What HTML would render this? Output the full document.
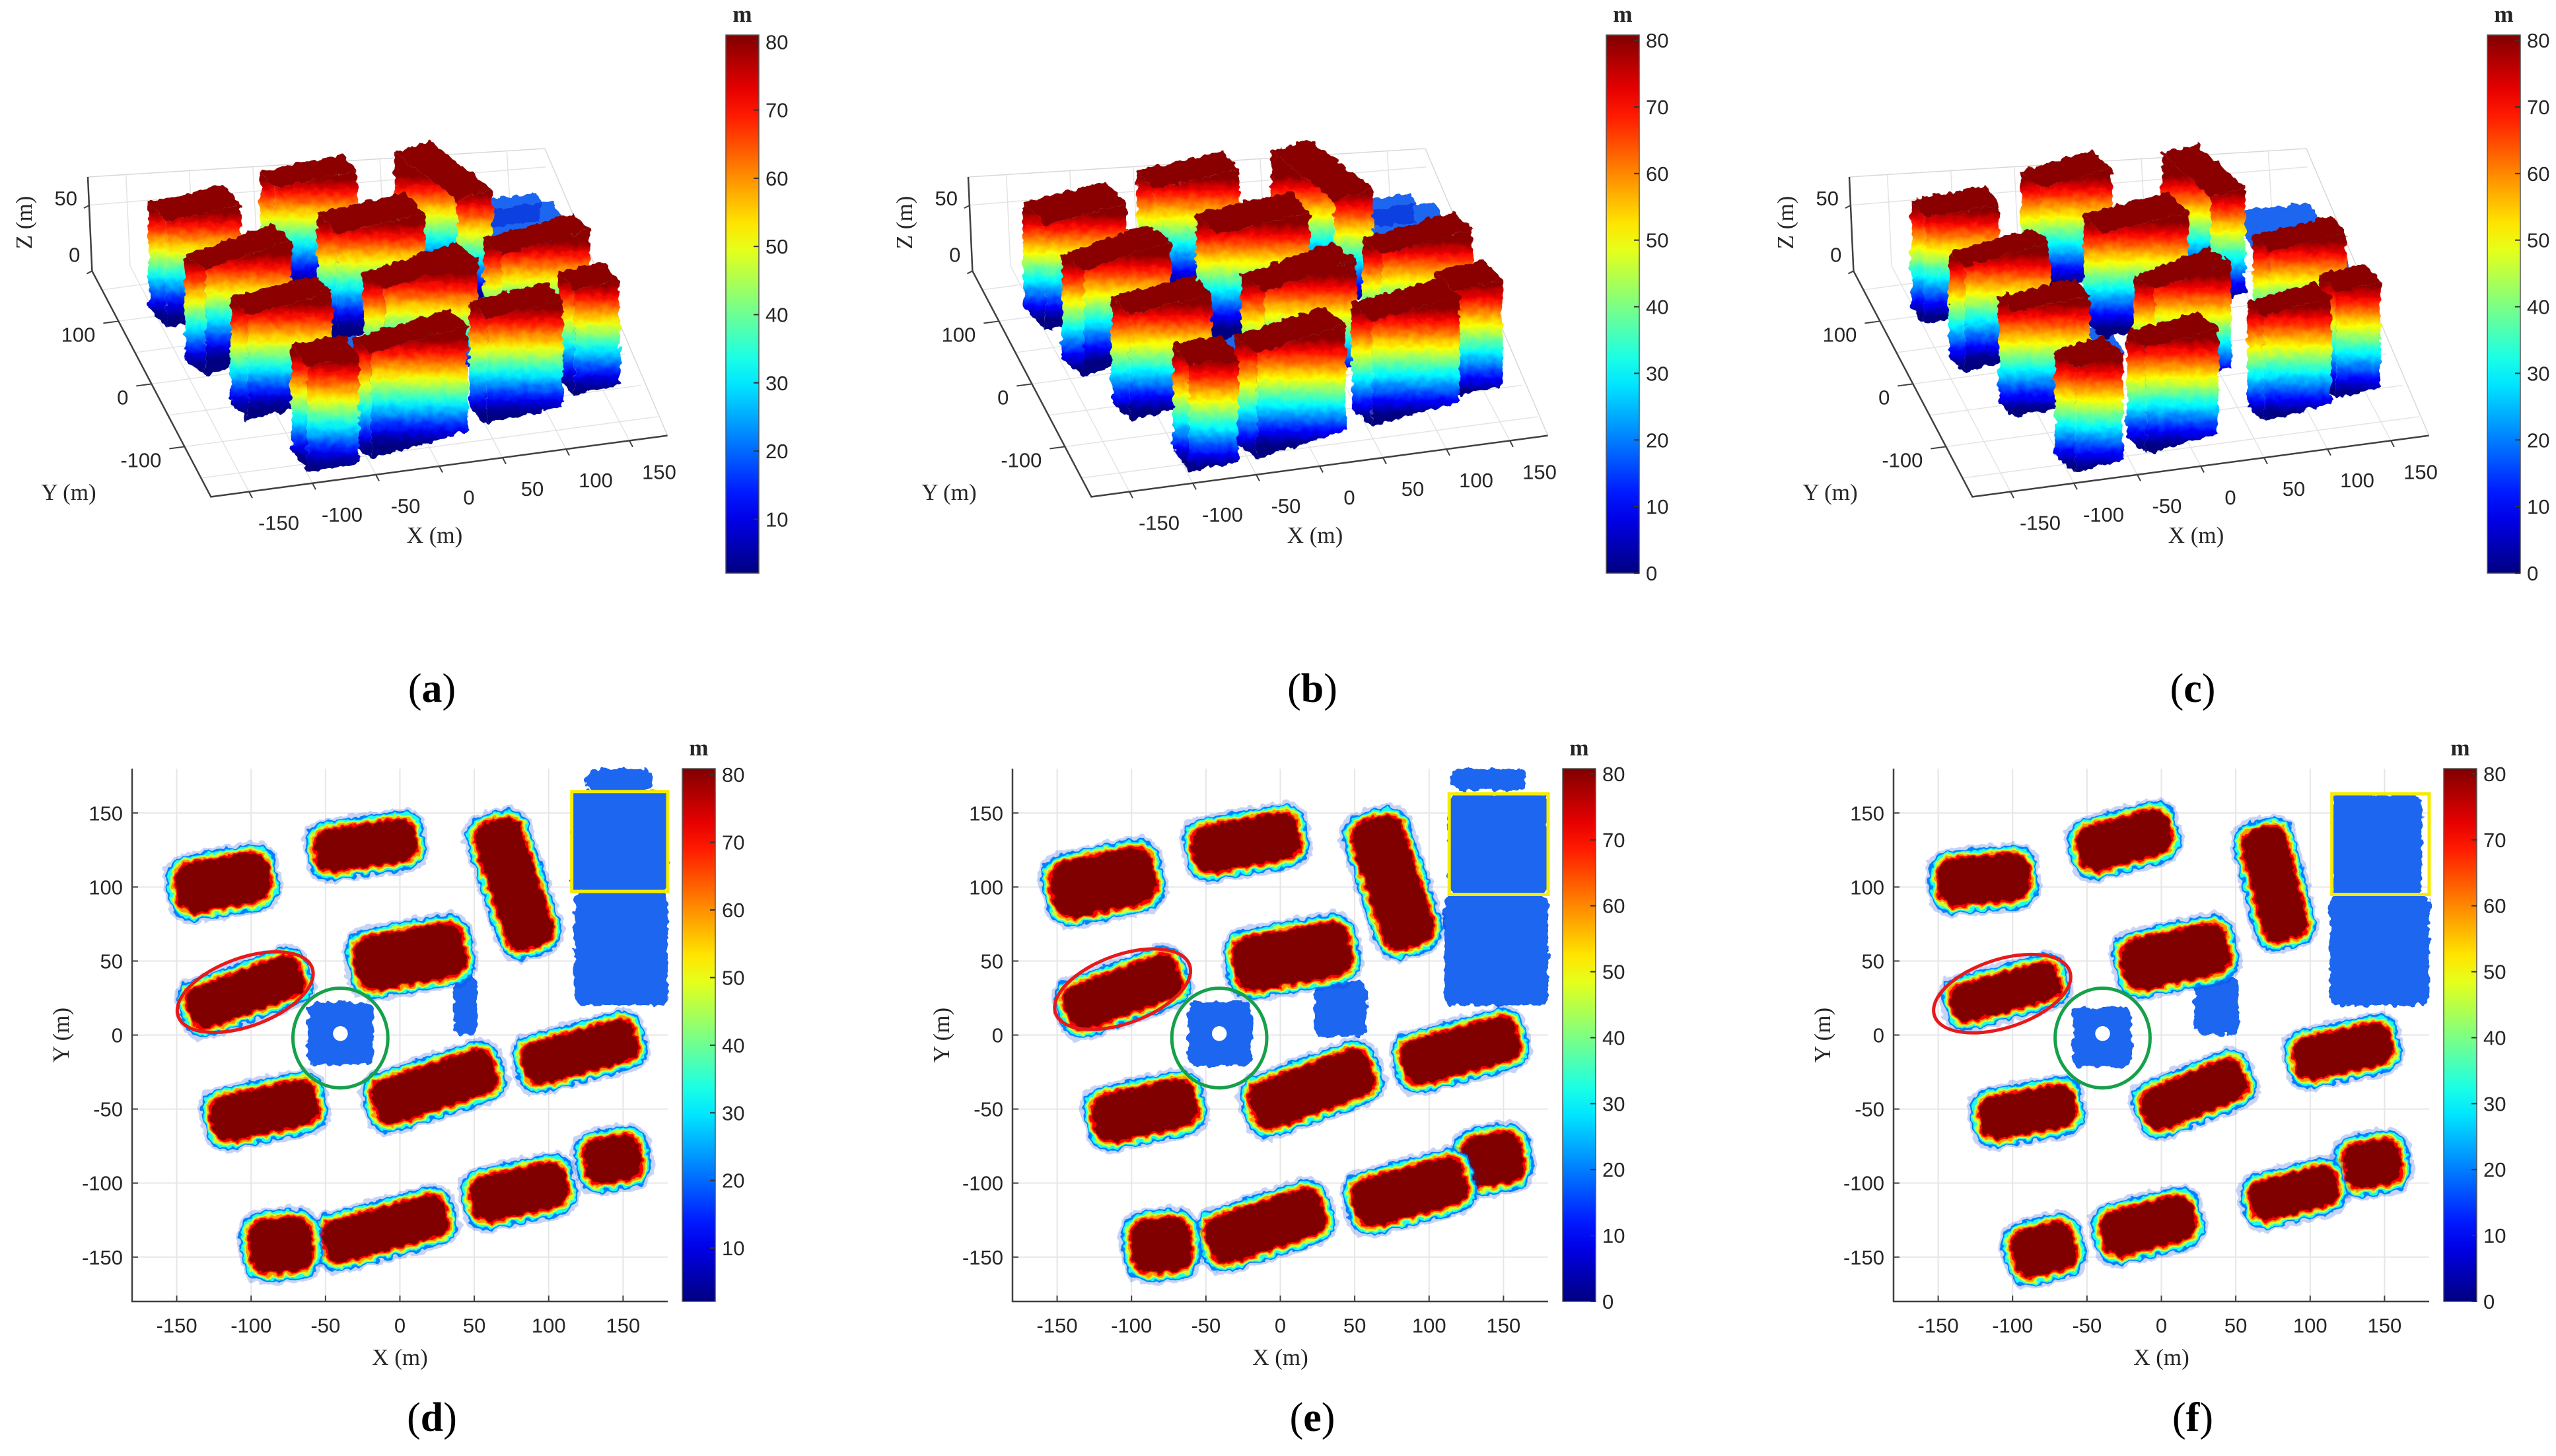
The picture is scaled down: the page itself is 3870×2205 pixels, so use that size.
<!DOCTYPE html>
<html><head><meta charset="utf-8">
<style>
html,body{margin:0;padding:0;background:#fff;}
svg{display:block;}
.tk{font-family:"Liberation Sans",Arial,sans-serif;font-size:31px;fill:#262626;}
.lb{font-family:"Liberation Serif",serif;font-size:35px;fill:#262626;}
.pl{font-family:"Liberation Serif",serif;font-size:62px;fill:#000;}
</style></head>
<body>
<svg id="fig" width="3870" height="2205" viewBox="0 0 3870 2205" xmlns="http://www.w3.org/2000/svg">
<defs>
<filter id="rough" x="-20%" y="-20%" width="140%" height="140%">
<feTurbulence type="fractalNoise" baseFrequency="0.09" numOctaves="2" seed="3" result="n"/>
<feDisplacementMap in="SourceGraphic" in2="n" scale="12" xChannelSelector="R" yChannelSelector="G"/>
</filter>
</defs>
</svg>
<script>
// ---------- data ----------
const axisTicks = [-150,-100,-50,0,50,100,150];
const zTicks = [0,50];
const yTicks3d = [-100,0,100];
const cbTicksA = [10,20,30,40,50,60,70,80];
const cbTicksB = [0,10,20,30,40,50,60,70,80];
// panel d / a buildings
const dX = [-119,-23,76.5,7,-104,23,121,-91,143,80,-10,-80];
const dY = [103,128,102,53,29,-35,-11.5,-51,-84,-106,-131,-142];
const dL = [63,68,89,74,80,85,78,72,38,65,85,42];
const dW = [33,28,32,36,28,30,28,30,30,30,28,36];
const dA = [10,8,-72,10,20,18,15,12,10,12,15,5];
// panel e / b buildings
const eX = [-119,-23,75.5,8,-106,21,121,-91,143,87,-10,-80];
const eY = [103,130,103,53,29,-36.5,-10.6,-51,-84,-106,-129,-142];
const eL = [70,72,90,79,80,85,80,70,40,77,81,40];
const eW = [38,31,35,36,30,32,30,32,34,32,32,36];
const eA = [12,10,-72,10,20,20,15,12,10,15,18,5];
// panel f / c buildings
const fX = [-119.5,-25,76,9.5,-104.6,22,122,-90,142,89,-9,-79];
const fY = [105,131.5,102,53,29,-40,-11,-52,-87,-107,-129,-145];
const fL = [61,63,77,72,74,72,66,64,38,59,63,42];
const fW = [31,30,30,34,25,28,28,28,30,26,30,32];
const fA = [5,15,-76,12,15,22,12,10,10,14,14,15];
// flat ground-level (blue) regions: x0,y0,x1,y1
const dBx0 = [115,117,125,36,-62]; const dBy0 = [97,20,165,0,-20]; const dBx1 = [180,180,170,52,-18]; const dBy1 = [165,97,180,42,22];
const eBx0 = [113,110,115,23,-62]; const eBy0 = [95,20,165,-1,-21]; const eBx1 = [180,180,165,58,-19]; const eBy1 = [163,95,180,36,23];
const fBx0 = [115,113,22,-60]; const fBy0 = [95,20,0,-22]; const fBx1 = [175,180,52,-20]; const fBy1 = [163,95,39,19];
// annotations: red ellipse (cx,cy,a,b,angle), green circle (cx,cy,r), yellow box (x0,y0,x1,y1)
const dRed = [-104,29,48,23,20]; const dGreen = [-40,-2,32]; const dYellow = [115.5,97,180,164.5];
const eRed = [-106,31,48,23,20]; const eGreen = [-41,-2,32]; const eYellow = [113.5,95,180,163];
const fRed = [-107,28,48,23,18]; const fGreen = [-39.5,-2,32]; const fYellow = [114.6,95,180,163];

// ---------- helpers ----------
const NS='http://www.w3.org/2000/svg';
const svg=document.getElementById('fig');
const defs=svg.querySelector('defs');
function mk(tag, attrs, parent){const e=document.createElementNS(NS,tag);for(const k in attrs)e.setAttribute(k,attrs[k]);(parent||svg).appendChild(e);return e;}
function cl(v){return Math.max(0,Math.min(1,v));}
function jet(t){t=cl(t);const r=cl(1.5-Math.abs(4*t-3)),g=cl(1.5-Math.abs(4*t-2)),b=cl(1.5-Math.abs(4*t-1));
 return 'rgb('+Math.round(r*255)+','+Math.round(g*255)+','+Math.round(b*255)+')';}
let gid=0;

function colorbar(x,y0,y1,vmin,vmax,ticks,name){
  const id='cbg'+(gid++);
  const lg=mk('linearGradient',{id:id,x1:0,y1:1,x2:0,y2:0},defs);
  for(let i=0;i<=20;i++){mk('stop',{offset:i/20,'stop-color':jet(i/20)},lg);}
  const g=mk('g',{});
  
  
  const r=mk('rect',{x:x,y:y0,width:50,height:y1-y0,fill:'url(#'+id+')',stroke:'#555','stroke-width':1.5},g);
  
  
  const m=mk('text',{x:x+25,y:y0-20,'text-anchor':'middle',class:'lb','font-weight':'bold'},g);
  m.textContent='m';
  
  
  ticks.forEach(v=>{
    const yy=y1-(v-vmin)/(vmax-vmin)*(y1-y0);
    mk('line',{x1:x+42,x2:x+50,y1:yy,y2:yy,stroke:'#333','stroke-width':2},g);
    const t=mk('text',{x:x+60,y:yy+11,class:'tk'},g);
    t.textContent=v;
    
    
  });
}

function panelLabel(cx,y,letter,name){
  const t=mk('text',{x:cx,y:y,'text-anchor':'middle',class:'pl'});
  t.innerHTML='(<tspan font-weight="bold">'+letter+'</tspan>)';
  
  
}

// ---------- 2D panels ----------
function panel2D(cfg){
  const L0=cfg.left, T0=cfg.top, Wd=811, Ht=807;
  const sx=x=>L0+(x+180)/360*Wd, sy=y=>T0+(180-y)/360*Ht;
  const k=(Wd/360+Ht/360)/2;
  const g=mk('g',{});
  
  
  axisTicks.forEach(v=>{
    const a=mk('line',{x1:sx(v),x2:sx(v),y1:T0,y2:T0+Ht,stroke:'#e6e6e6','stroke-width':2},g);
    
    
    const b=mk('line',{x1:L0,x2:L0+Wd,y1:sy(v),y2:sy(v),stroke:'#e6e6e6','stroke-width':2},g);
    
    
  });
  const bg=mk('g',{filter:'url(#rough)'},g);
  
  
  cfg.bx0.forEach((x0,i)=>{
    const r=mk('rect',{x:sx(x0),y:sy(cfg.by1[i]),width:sx(cfg.bx1[i])-sx(x0),height:sy(cfg.by0[i])-sy(cfg.by1[i]),rx:14,fill:'#1a66f0'},bg);
    
    
  });
  const hc=mk('circle',{cx:sx(cfg.green[0]),cy:sy(cfg.green[1]+3),r:5*k,fill:'#fff'},g);
  
  
  const layers=[[8,-1,0.22],[6,20,1],[4.8,32,1],[3.6,46,1],[2.4,58,1],[1.3,70,1],[0,80,1]];
  cfg.X.forEach((x,i)=>{
    const bgp=mk('g',{transform:'translate('+sx(x)+','+sy(cfg.Y[i])+') rotate('+(-cfg.A[i])+')',filter:'url(#rough)'},g);
    
    
    const Lp=cfg.L[i]*k, Wp=cfg.W[i]*k;
    layers.forEach(([pad,val,op])=>{
      const p=pad*k;
      const col= val<0 ? '#0a2fd8' : jet(val/80);
      const r=mk('rect',{x:-Lp/2-p,y:-Wp/2-p,width:Lp+2*p,height:Wp+2*p,rx:(Wp/2+p)*0.7,fill:col,opacity:op},bgp);
      
      
    });
  });
  const re=cfg.red;
  const e=mk('ellipse',{cx:sx(re[0]),cy:sy(re[1]),rx:re[2]*k,ry:re[3]*k,transform:'rotate('+(-re[4])+' '+sx(re[0])+' '+sy(re[1])+')',fill:'none',stroke:'#e8191b','stroke-width':5},g);
  
  
  const gr=cfg.green;
  const c=mk('ellipse',{cx:sx(gr[0]),cy:sy(gr[1]),rx:gr[2]*k,ry:gr[2]*k*1.05,fill:'none',stroke:'#16a04a','stroke-width':5},g);
  
  
  const ye=cfg.yellow;
  const yr=mk('rect',{x:sx(ye[0]),y:sy(ye[3]),width:sx(ye[2])-sx(ye[0]),height:sy(ye[1])-sy(ye[3]),fill:'none',stroke:'#f5ec00','stroke-width':5},g);
  
  
  const ax=mk('path',{d:'M'+L0+' '+T0+' V'+(T0+Ht)+' H'+(L0+Wd),fill:'none',stroke:'#404040','stroke-width':2.5},g);
  
  
  axisTicks.forEach(v=>{
    mk('line',{x1:sx(v),x2:sx(v),y1:T0+Ht,y2:T0+Ht-9,stroke:'#404040','stroke-width':2},g);
    mk('line',{x1:L0,x2:L0+9,y1:sy(v),y2:sy(v),stroke:'#404040','stroke-width':2},g);
    const tx=mk('text',{x:sx(v),y:T0+Ht+47,'text-anchor':'middle',class:'tk'},g);
    tx.textContent=v;
    
    
    const ty=mk('text',{x:L0-14,y:sy(v)+11,'text-anchor':'end',class:'tk'},g);
    ty.textContent=v;
    
    
  });
  const xl=mk('text',{x:sx(0),y:T0+Ht+96,'text-anchor':'middle',class:'lb'},g);
  xl.textContent='X (m)';
  
  
  const yl=mk('text',{x:0,y:0,'text-anchor':'middle',class:'lb',transform:'translate('+(L0-96)+','+sy(0)+') rotate(-90)'},g);
  yl.textContent='Y (m)';
  
  
}

// ---------- 3D panels ----------
function panel3D(cfg){
  const ox=cfg.ox, oy=535;
  const P=(x,y,z)=>[ox+1.92*x-0.5*y, oy-0.258*x-0.95*y-2.0*z];
  const pt=a=>a[0].toFixed(1)+','+a[1].toFixed(1);
  const g=mk('g',{});
  
  
  const zt=66;
  const gl=(a,b,c,w)=>mk('line',{x1:a[0],y1:a[1],x2:b[0],y2:b[1],stroke:c,'stroke-width':w},g);
  // perspective-ish back box (screen-space corners)
  const TL=[ox-442,268], TR=[ox+250,225], FR=P(180,-180,0);
  const lerp=(a,b,t)=>[a[0]+(b[0]-a[0])*t,a[1]+(b[1]-a[1])*t];
  axisTicks.forEach(v=>{
    const l1=gl(P(v,-180,0),P(v,180,0),'#e3e3e3',1.5);
    
    
    const l2=gl(P(-180,v,0),P(180,v,0),'#e3e3e3',1.5);
    
    
    const l3=gl(P(v,180,0),lerp(TL,TR,(v+180)/360),'#e3e3e3',1.5);
    
    
  });
  const zm=lerp(P(-180,180,0),TL,0.7), zm2=lerp(P(180,180,0),TR,0.7);
  const l5=gl(zm,zm2,'#e3e3e3',1.5);
  
  
  const top1=gl(TL,TR,'#d8d8d8',1.5);
  
  
  const top2=gl(TR,FR,'#d8d8d8',1.5);
  
  
  const zb=P(-180,180,0);
  const axp=mk('path',{d:'M'+pt(FR)+' L'+pt(P(-180,-180,0))+' L'+pt(zb)+' L'+pt(TL),fill:'none',stroke:'#404040','stroke-width':2.5},g);
  
  
  axisTicks.forEach(v=>{
    const a=P(v,-180,0),b=P(v,-190,0);
    gl(a,b,'#404040',2);
    const t=mk('text',{x:a[0]+45,y:a[1]+58,'text-anchor':'middle',class:'tk'},g);
    t.textContent=v;
    
    
  });
  yTicks3d.forEach(v=>{
    const a=P(-180,v,0),b=P(-192,v,0);
    gl(a,b,'#404040',2);
    const t=mk('text',{x:a[0]-35,y:a[1]+31,'text-anchor':'end',class:'tk'},g);
    t.textContent=v;
    
    
  });
  zTicks.forEach(v=>{
    const a=lerp(zb,TL,v/zt*0.92);
    gl(a,[a[0]-8,a[1]+4],'#404040',2);
    const t=mk('text',{x:a[0]-18,y:a[1]-(v?0:14),'text-anchor':'end',class:'tk'},g);
    t.textContent=v;
    
    
  });
  const xl=mk('text',{x:ox+83,y:822,'text-anchor':'middle',class:'lb'},g);
  xl.textContent='X (m)';
  
  
  const yl=mk('text',{x:ox-471,y:757,'text-anchor':'middle',class:'lb'},g);
  yl.textContent='Y (m)';
  
  
  const zl=mk('text',{x:0,y:0,'text-anchor':'middle',class:'lb',transform:'translate('+(ox-527)+',337) rotate(-90)'},g);
  zl.textContent='Z (m)';
  
  
  const vmin=cfg.vmin, vmax=cfg.vmax;
  const jz=z=>jet((z-vmin)/(vmax-vmin));
  const gg=mk('g',{filter:'url(#rough)'},g);
  
  
  cfg.bx0.forEach((x0,i)=>{
    const x1=cfg.bx1[i],y0=cfg.by0[i],y1=cfg.by1[i],h=14;
    const p=mk('polygon',{points:[P(x0,y0,h),P(x1,y0,h),P(x1,y1,h),P(x0,y1,h)].map(pt).join(' '),fill:'#1a66f0'},gg);
    
    
    const p2=mk('polygon',{points:[P(x0,y0,0),P(x1,y0,0),P(x1,y0,h),P(x0,y0,h)].map(pt).join(' '),fill:'#0f3fe0'},gg);
    
    
  });
  const idx=cfg.X.map((_,i)=>i).sort((a,b)=>(-0.258*cfg.X[a]-0.95*cfg.Y[a])-(-0.258*cfg.X[b]-0.95*cfg.Y[b]));
  const H=80;
  idx.forEach(i=>{
    const cx=cfg.X[i],cy=cfg.Y[i],Ln=cfg.L[i],Wn=cfg.W[i],an=cfg.A[i]*Math.PI/180;
    const u=[Math.cos(an),Math.sin(an)],v=[-Math.sin(an),Math.cos(an)];
    const cs=[[1,1],[-1,1],[-1,-1],[1,-1]].map(([a,b])=>[cx+a*u[0]*Ln/2+b*v[0]*Wn/2, cy+a*u[1]*Ln/2+b*v[1]*Wn/2]);
    const bg=mk('g',{filter:'url(#rough)'},g);
    
    
    const faces=[];
    for(let j=0;j<4;j++){
      const a=cs[j],b=cs[(j+1)%4];
      const mx=(a[0]+b[0])/2-cx,my=(a[1]+b[1])/2-cy;
      const near=-0.258*mx-0.95*my;
      if(near>0)faces.push([a,b,near]);
    }
    faces.sort((p,q)=>p[2]-q[2]);
    faces.forEach(([a,b])=>{
      const id='fg'+(gid++);
      const bm=P((a[0]+b[0])/2,(a[1]+b[1])/2,0), tm=P((a[0]+b[0])/2,(a[1]+b[1])/2,H);
      const lg=mk('linearGradient',{id:id,gradientUnits:'userSpaceOnUse',x1:bm[0],y1:bm[1],x2:tm[0],y2:tm[1]},defs);
      for(let s=0;s<=16;s++){mk('stop',{offset:s/16,'stop-color':jz(s/16*H)},lg);}
      const f=mk('polygon',{points:[P(a[0],a[1],0),P(b[0],b[1],0),P(b[0],b[1],H),P(a[0],a[1],H)].map(pt).join(' '),fill:'url(#'+id+')'},bg);
      
      
    });
    const tp=mk('polygon',{points:cs.map(c=>pt(P(c[0],c[1],H))).join(' '),fill:jz(80)},bg);
    
    
  });
}

// ---------- build ----------
panel3D({name:'panel-a-3d',ox:575,X:dX,Y:dY,L:dL,W:dW,A:dA,bx0:dBx0,by0:dBy0,bx1:dBx1,by1:dBy1,vmin:2.1,vmax:81});
panel3D({name:'panel-b-3d',ox:1908,X:eX,Y:eY,L:eL,W:eW,A:eA,bx0:eBx0,by0:eBy0,bx1:eBx1,by1:eBy1,vmin:0,vmax:80.8});
panel3D({name:'panel-c-3d',ox:3242,X:fX,Y:fY,L:fL,W:fW,A:fA,bx0:fBx0,by0:fBy0,bx1:fBx1,by1:fBy1,vmin:0,vmax:80.8});
colorbar(1099,53,868,2.1,81,cbTicksA,'colorbar-a');
colorbar(2432,53,868,0,80.8,cbTicksB,'colorbar-b');
colorbar(3766,53,868,0,80.8,cbTicksB,'colorbar-c');
panelLabel(654,1063,'a','label-a');
panelLabel(1987,1063,'b','label-b');
panelLabel(3320,1063,'c','label-c');

panel2D({name:'panel-d-2d',left:200,top:1164,X:dX,Y:dY,L:dL,W:dW,A:dA,bx0:dBx0,by0:dBy0,bx1:dBx1,by1:dBy1,red:dRed,green:dGreen,yellow:dYellow});
panel2D({name:'panel-e-2d',left:1533,top:1164,X:eX,Y:eY,L:eL,W:eW,A:eA,bx0:eBx0,by0:eBy0,bx1:eBx1,by1:eBy1,red:eRed,green:eGreen,yellow:eYellow});
panel2D({name:'panel-f-2d',left:2867,top:1164,X:fX,Y:fY,L:fL,W:fW,A:fA,bx0:fBx0,by0:fBy0,bx1:fBx1,by1:fBy1,red:fRed,green:fGreen,yellow:fYellow});
colorbar(1033,1164,1971,2.1,80.9,cbTicksA,'colorbar-d');
colorbar(2366,1164,1971,0,80.8,cbTicksB,'colorbar-e');
colorbar(3700,1164,1971,0,80.8,cbTicksB,'colorbar-f');
panelLabel(654,2167,'d','label-d');
panelLabel(1987,2167,'e','label-e');
panelLabel(3320,2167,'f','label-f');
</script>
</body></html>
